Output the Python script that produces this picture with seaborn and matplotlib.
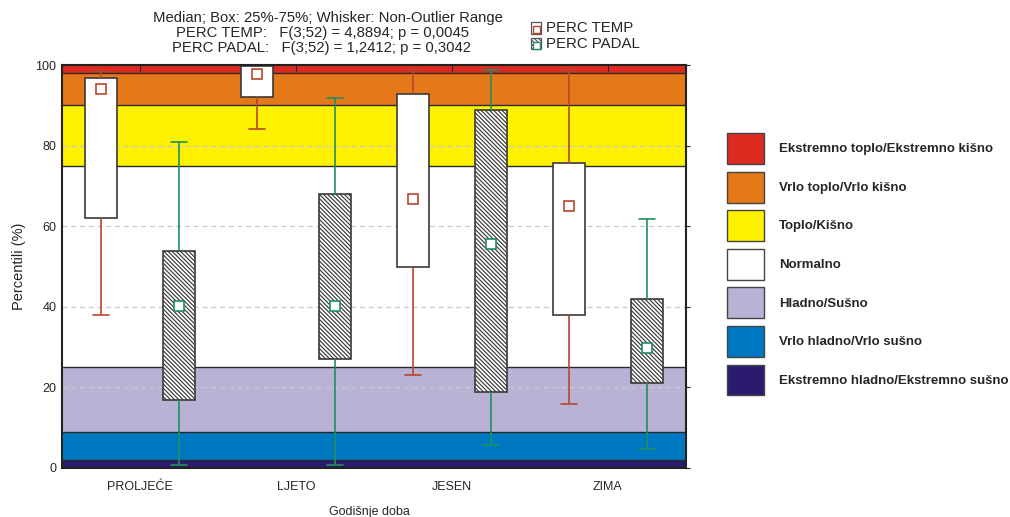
import numpy as np
import pandas as pd
import matplotlib
matplotlib.use("Agg")
import matplotlib.pyplot as plt
from matplotlib.patches import Patch, Rectangle
import seaborn as sns

# categories and series
seasons = ["PROLJEĆE", "LJETO", "JESEN", "ZIMA"]
series = ["PERC TEMP", "PERC PADAL"]

# box statistics (whisker low, q25, median, q75, whisker high)
temp_min = [38.0, 84.0, 23.0, 16.0]
temp_q1 = [62.0, 92.0, 50.0, 38.0]
temp_med = [94.0, 97.7, 66.8, 65.0]
temp_q3 = [96.7, 99.8, 92.9, 75.7]
temp_max = [98.6, 100.0, 98.7, 98.7]

padal_min = [0.8, 0.8, 5.7, 4.7]
padal_q1 = [16.8, 27.0, 18.8, 21.0]
padal_med = [40.3, 40.3, 55.7, 29.8]
padal_q3 = [53.9, 68.0, 88.8, 42.0]
padal_max = [81.0, 91.8, 98.7, 61.8]

# percentile classes (bottom to top)
band_edges = [0, 2, 9, 25, 75, 90, 98, 100]
band_colors = ["#2b1a70", "#0078c1", "#b8b2d5", "#ffffff", "#fff200", "#e57818", "#dc2a20"]
band_labels = ["Ekstremno hladno/Ekstremno sušno", "Vrlo hladno/Vrlo sušno", "Hladno/Sušno",
               "Normalno", "Toplo/Kišno", "Vrlo toplo/Vrlo kišno", "Ekstremno toplo/Ekstremno kišno"]

temp_color = "#b8452f"
padal_color = "#1f9060"
hatch = "\\" * 8

# long table: five values per group give exactly these quartiles
rows = []
for name, stats in [("PERC TEMP", (temp_min, temp_q1, temp_med, temp_q3, temp_max)),
                    ("PERC PADAL", (padal_min, padal_q1, padal_med, padal_q3, padal_max))]:
    for i, s in enumerate(seasons):
        for arr in stats:
            rows.append({"season": s, "series": name, "value": arr[i]})
df = pd.DataFrame(rows)

med_df = pd.DataFrame({
    "season": seasons * 2,
    "series": [series[0]] * 4 + [series[1]] * 4,
    "median": temp_med + padal_med,
})

sns.set_style("white")
plt.rcParams["font.family"] = ["Liberation Sans", "DejaVu Sans"]
plt.rcParams["hatch.linewidth"] = 0.85

fig = plt.figure(figsize=(10.10, 5.17), dpi=100)
ax = fig.add_axes([62 / 1010, 1 - 468 / 517, 624 / 1010, 403 / 517])

# background bands
for lo, hi, c in zip(band_edges[:-1], band_edges[1:], band_colors):
    ax.axhspan(lo, hi, color=c, zorder=0, lw=0)
for e in band_edges[1:-1]:
    ax.axhline(e, color="#2a2a2a", lw=1.0, zorder=1.5)
for g in [20, 40, 60, 80]:
    ax.axhline(g, color="#c8c8d2", lw=0.9, ls=(0, (4, 3)), zorder=1)

sns.boxplot(data=df, x="season", y="value", hue="series", order=seasons, hue_order=series,
            palette={s: "white" for s in series}, width=1.0, gap=0.6, whis=(0, 100),
            linecolor="#3a3a3a", linewidth=1.2, fliersize=0,
            medianprops={"linewidth": 0}, legend=False, ax=ax)

for cont, col in zip(ax.containers, [temp_color, padal_color]):
    for w in cont.whiskers:
        w.set_color(col)
    for c in cont.caps:
        c.set_color(col)
for b in ax.containers[1].boxes:
    b.set_hatch(hatch)

n0 = len(ax.lines)
sns.pointplot(data=med_df, x="season", y="median", hue="series", order=seasons, hue_order=series,
              palette={series[0]: temp_color, series[1]: padal_color}, dodge=0.5,
              linestyle="none", markers="s", errorbar=None, legend=False, ax=ax,
              markersize=6.5, markeredgewidth=1.2)
for line in ax.lines[n0:]:
    line.set_markerfacecolor("white")
    line.set_zorder(6)

ax.set_xlim(-0.5, 3.5)
ax.set_ylim(0, 100)
ax.set_yticks([0, 20, 40, 60, 80, 100])
ax.set(xlabel="", ylabel="")
for sp in ax.spines.values():
    sp.set_visible(True)
    sp.set_color("#222222")
    sp.set_linewidth(1.5)
    sp.set_zorder(7)
ax.tick_params(axis="x", direction="in", top=True, length=4, labelsize=9, pad=9, color="#222222")
ax.tick_params(axis="y", direction="out", length=3, labelsize=9, pad=1, color="#222222")
ax.tick_params(axis="y", which="both", right=True)

# titles and axis labels
fs_title = 10.7
fig.text(328 / 1010, 1 - 22 / 517, "Median; Box: 25%-75%; Whisker: Non-Outlier Range",
         ha="center", va="baseline", fontsize=fs_title)
fig.text(322 / 1010, 1 - 37 / 517, "PERC TEMP:   F(3;52) = 4,8894; p = 0,0045",
         ha="center", va="baseline", fontsize=fs_title)
fig.text(322 / 1010, 1 - 52 / 517, "PERC PADAL:   F(3;52) = 1,2412; p = 0,3042",
         ha="center", va="baseline", fontsize=fs_title)
fig.text(19 / 1010, 1 - 266 / 517, "Percentili (%)", rotation=90, ha="center", va="center", fontsize=10.5)
fig.text(369 / 1010, 1 - 512 / 517, "Godišnje doba", ha="center", va="center", fontsize=9)

# series legend (top), drawn as small icons with text
for k, (name, col) in enumerate(zip(series, [temp_color, padal_color])):
    base = 32.5 + 15.5 * k
    outer = Rectangle((531 / 1010, 1 - (base + 1) / 517), 10 / 1010, 11 / 517,
                      transform=fig.transFigure, facecolor="white", edgecolor="#555555", lw=0.9,
                      hatch=hatch if k == 1 else None)
    inner = Rectangle((533 / 1010, 1 - (base + 0.5) / 517), 6.5 / 1010, 7 / 517,
                      transform=fig.transFigure, facecolor="white", edgecolor=col, lw=1.0)
    fig.add_artist(outer)
    fig.add_artist(inner)
    fig.text(546 / 1010, 1 - base / 517, name, ha="left", va="baseline", fontsize=10.8)

# class legend (right)
class_handles = [Patch(facecolor=c, edgecolor="#444444", lw=1) for c in band_colors[::-1]]
fig.legend(class_handles, band_labels[::-1], loc="upper left", bbox_to_anchor=(727 / 1010, 1 - 133 / 517),
           frameon=False, prop={"size": 9.5, "weight": "bold"}, handlelength=2.8, handleheight=3.23,
           handletextpad=1.14, labelspacing=0.58, borderpad=0, borderaxespad=0)

fig.savefig("out.png", dpi=100)
